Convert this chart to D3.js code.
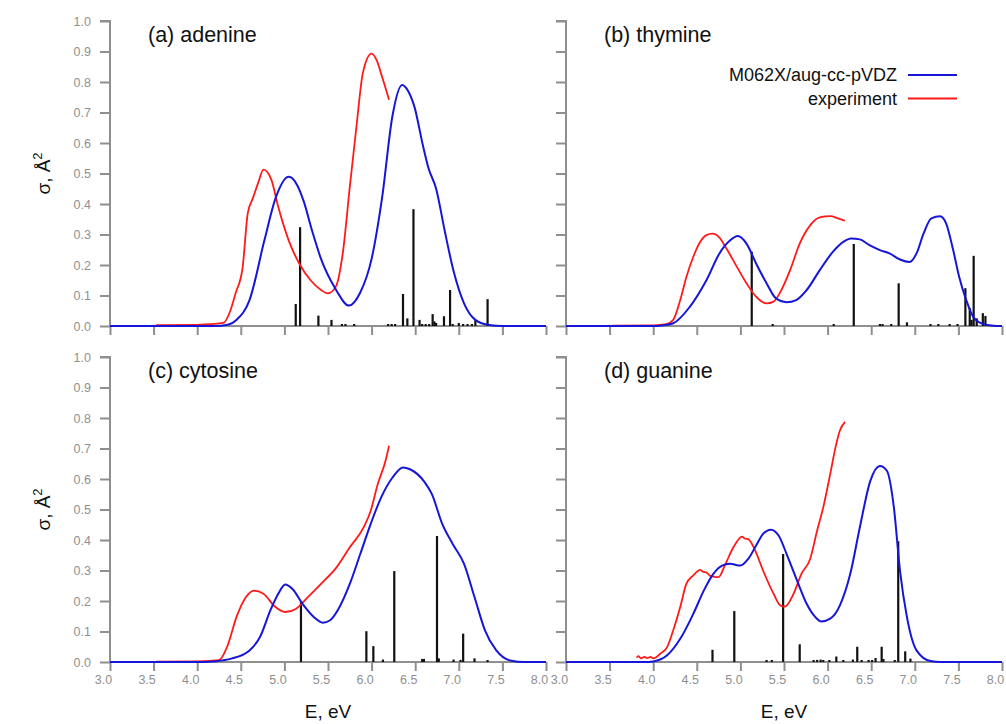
<!DOCTYPE html>
<html>
<head>
<meta charset="utf-8">
<script src="https://cdn.jsdelivr.net/npm/d3@7"></script>
<style>
  body { margin: 0; background: #fff; }
  svg text { font-family: "Liberation Sans", Arial, sans-serif; }
</style>
</head>
<body>
<script>
// tick values shared by all panels
const xTicks = [3.0, 3.5, 4.0, 4.5, 5.0, 5.5, 6.0, 6.5, 7.0, 7.5, 8.0];
const yTicks = [0.0, 0.1, 0.2, 0.3, 0.4, 0.5, 0.6, 0.7, 0.8, 0.9, 1.0];
const seriesNames = ["M062X/aug-cc-pVDZ", "experiment"];
const panelTitles = ["(a) adenine", "(b) thymine", "(c) cytosine", "(d) guanine"];

// [E (eV), sigma (A^2)]
const adenineCalc = [[3.0,0],[4.2,0],[4.35,0.004],[4.45,0.02],[4.6,0.085],[4.77,0.28],[4.9,0.42],[5.05,0.489],
  [5.15,0.46],[5.22,0.41],[5.32,0.31],[5.42,0.22],[5.59,0.12],[5.74,0.067],[5.87,0.11],[6.0,0.22],[6.12,0.42],
  [6.24,0.69],[6.35,0.79],[6.42,0.77],[6.49,0.72],[6.59,0.59],[6.65,0.52],[6.74,0.45],[6.84,0.31],[6.94,0.18],
  [7.06,0.074],[7.19,0.02],[7.35,0.003],[7.5,0],[8.0,0]];
const adenineExp = [[3.53,0.003],[4.0,0.004],[4.3,0.01],[4.38,0.05],[4.44,0.107],[4.52,0.19],[4.58,0.37],[4.64,0.42],
  [4.7,0.47],[4.76,0.513],[4.85,0.48],[4.93,0.39],[5.05,0.28],[5.17,0.205],[5.3,0.15],[5.42,0.118],[5.5,0.107],
  [5.59,0.129],[5.67,0.24],[5.75,0.456],[5.83,0.664],[5.9,0.83],[6.0,0.893],[6.06,0.87],[6.12,0.817],[6.2,0.742]];
const adenineSticks = [[5.13,0.072],[5.18,0.324],[5.39,0.034],[5.54,0.02],[5.66,0.004],[5.70,0.004],[5.80,0.004],
  [6.19,0.004],[6.23,0.004],[6.27,0.004],[6.36,0.105],[6.41,0.025],[6.48,0.383],[6.55,0.02],[6.58,0.005],[6.62,0.005],
  [6.66,0.005],[6.70,0.039],[6.72,0.015],[6.74,0.01],[6.83,0.032],[6.90,0.118],[6.93,0.006],[7.0,0.01],[7.05,0.004],
  [7.1,0.004],[7.15,0.005],[7.19,0.02],[7.33,0.088]];

const thymineCalc = [[3.0,0],[4.0,0],[4.1,0.002],[4.23,0.009],[4.42,0.063],[4.61,0.15],[4.76,0.238],[4.88,0.28],
  [4.97,0.295],[5.07,0.27],[5.18,0.205],[5.3,0.14],[5.41,0.09],[5.53,0.078],[5.64,0.085],[5.76,0.118],[5.91,0.183],
  [6.06,0.243],[6.18,0.276],[6.27,0.287],[6.37,0.284],[6.48,0.265],[6.6,0.249],[6.71,0.238],[6.83,0.218],[6.94,0.21],
  [7.02,0.238],[7.1,0.303],[7.19,0.353],[7.29,0.36],[7.36,0.336],[7.44,0.249],[7.51,0.16],[7.59,0.085],[7.67,0.03],
  [7.78,0.007],[7.9,0.001],[8.0,0]];
const thymineExp = [[3.535,0.001],[4.0,0.002],[4.15,0.006],[4.23,0.02],[4.31,0.085],[4.38,0.16],[4.46,0.227],
  [4.54,0.276],[4.61,0.298],[4.68,0.303],[4.76,0.29],[4.84,0.254],[4.96,0.194],[5.07,0.14],[5.18,0.096],[5.3,0.074],
  [5.38,0.08],[5.45,0.107],[5.57,0.183],[5.68,0.27],[5.8,0.33],[5.91,0.356],[6.03,0.36],[6.12,0.353],[6.2,0.345]];
const thymineSticks = [[5.13,0.244],[5.37,0.003],[6.07,0.005],[6.30,0.269],[6.60,0.005],[6.63,0.005],[6.73,0.003],
  [6.815,0.14],[6.91,0.012],[7.18,0.006],[7.27,0.006],[7.40,0.006],[7.49,0.006],[7.58,0.124],[7.63,0.059],[7.65,0.02],
  [7.675,0.23],[7.71,0.025],[7.78,0.042],[7.81,0.033]];

const cytosineCalc = [[3.0,0],[4.1,0],[4.19,0.002],[4.39,0.011],[4.6,0.038],[4.72,0.082],[4.84,0.17],[4.93,0.224],
  [5.01,0.254],[5.09,0.24],[5.21,0.19],[5.34,0.147],[5.44,0.129],[5.52,0.136],[5.62,0.174],[5.75,0.256],[5.87,0.354],
  [5.99,0.453],[6.11,0.54],[6.24,0.605],[6.36,0.638],[6.44,0.632],[6.61,0.589],[6.69,0.551],[6.81,0.453],[6.93,0.387],
  [7.06,0.322],[7.18,0.213],[7.3,0.104],[7.43,0.038],[7.59,0.005],[7.75,0],[8.0,0]];
const cytosineExp = [[3.53,0.001],[4.0,0.002],[4.25,0.006],[4.35,0.055],[4.45,0.147],[4.56,0.213],[4.65,0.234],
  [4.76,0.224],[4.89,0.182],[5.01,0.164],[5.13,0.174],[5.25,0.207],[5.42,0.256],[5.6,0.311],[5.75,0.376],[5.91,0.442],
  [5.99,0.496],[6.07,0.583],[6.16,0.66],[6.2,0.709]];
const cytosineSticks = [[5.19,0.196],[5.94,0.101],[6.02,0.052],[6.13,0.008],[6.26,0.298],[6.58,0.01],[6.60,0.01],
  [6.75,0.413],[6.77,0.012],[6.94,0.008],[7.02,0.007],[7.05,0.093],[7.18,0.012],[7.33,0.004]];

const guanineCalc = [[3.0,0],[3.9,0],[4.0,0.002],[4.16,0.022],[4.31,0.076],[4.46,0.158],[4.58,0.234],[4.69,0.289],
  [4.79,0.316],[4.88,0.322],[5.0,0.316],[5.09,0.338],[5.19,0.387],[5.26,0.42],[5.35,0.434],[5.44,0.414],[5.53,0.354],
  [5.65,0.267],[5.76,0.191],[5.86,0.147],[5.93,0.133],[6.03,0.142],[6.14,0.185],[6.26,0.289],[6.37,0.442],
  [6.49,0.594],[6.6,0.643],[6.68,0.627],[6.76,0.507],[6.83,0.3],[6.91,0.147],[7.02,0.038],[7.18,0.003],[7.3,0],[8.0,0]];
const guanineExp = [[3.81,0.014],[3.83,0.019],[3.86,0.012],[3.9,0.017],[3.93,0.013],[3.97,0.017],[4.0,0.012],
  [4.03,0.015],[4.08,0.027],[4.16,0.049],[4.23,0.104],[4.31,0.18],[4.38,0.256],[4.46,0.284],[4.54,0.302],[4.57,0.296],
  [4.61,0.294],[4.65,0.283],[4.69,0.28],[4.75,0.278],[4.82,0.316],[4.92,0.376],[5.02,0.411],[5.05,0.405],[5.09,0.403],
  [5.17,0.365],[5.26,0.3],[5.38,0.224],[5.46,0.185],[5.51,0.182],[5.61,0.224],[5.7,0.289],[5.8,0.338],[5.88,0.431],
  [5.95,0.507],[6.03,0.616],[6.09,0.703],[6.14,0.758],[6.2,0.787]];
const guanineSticks = [[4.68,0.04],[4.93,0.167],[5.30,0.005],[5.36,0.005],[5.49,0.354],[5.68,0.058],[5.84,0.005],
  [5.88,0.007],[5.92,0.008],[5.95,0.005],[6.02,0.005],[6.10,0.018],[6.18,0.005],[6.29,0.008],[6.34,0.05],[6.39,0.004],
  [6.47,0.005],[6.51,0.006],[6.55,0.013],[6.62,0.05],[6.64,0.01],[6.77,0.005],[6.81,0.396],[6.89,0.035],[6.95,0.011]];

const width = 1006;
const height = 724;
const panelW = 436;
const panelH = 305;
const lefts = [110, 566];
const tops = [21, 357];

const blue = "#1616d8";
const red = "#ff1a1a";
const grey = "#8f8f8f";

const svg = d3.select("body").append("svg")
  .attr("width", width)
  .attr("height", height);

const panels = [
  {calc: adenineCalc, exp: adenineExp, sticks: adenineSticks, col: 0, row: 0},
  {calc: thymineCalc, exp: thymineExp, sticks: thymineSticks, col: 1, row: 0},
  {calc: cytosineCalc, exp: cytosineExp, sticks: cytosineSticks, col: 0, row: 1},
  {calc: guanineCalc, exp: guanineExp, sticks: guanineSticks, col: 1, row: 1}
];

panels.forEach((p, i) => {
  const g = svg.append("g")
    .attr("transform", `translate(${lefts[p.col]},${tops[p.row]})`);

  const x = d3.scaleLinear().domain([3, 8]).range([0, panelW]);
  const y = d3.scaleLinear().domain([0, 1]).range([panelH, 0]);

  // x axis
  const xa = g.append("g")
    .attr("transform", `translate(0,${panelH})`)
    .call(d3.axisBottom(x).tickValues(xTicks).tickSize(9).tickPadding(4)
      .tickFormat(p.row === 1 ? d3.format(".1f") : ""));
  // y axis
  const ya = g.append("g")
    .call(d3.axisLeft(y).tickValues(yTicks).tickSize(10).tickPadding(9)
      .tickFormat(p.col === 0 ? d3.format(".1f") : ""));

  [xa, ya].forEach(a => {
    a.select(".domain").attr("stroke", grey).attr("stroke-width", 2);
    a.selectAll(".tick line").attr("stroke", grey).attr("stroke-width", 2);
    a.selectAll(".tick text").attr("fill", grey).style("font-size", "12.5px");
  });
  // plain domain lines
  xa.select(".domain").attr("d", `M0,0H${panelW}`);
  ya.select(".domain").attr("d", `M-10,0H0V${panelH}`);
  xa.selectAll(".tick text").attr("dx", -7);

  // stick spectrum
  g.append("g").selectAll("rect")
    .data(p.sticks)
    .join("rect")
    .attr("x", d => x(d[0]) - 1.1)
    .attr("width", 2.2)
    .attr("y", d => Math.min(y(d[1]), panelH - 2))
    .attr("height", d => Math.max(panelH - y(d[1]), 2))
    .attr("fill", "#111");

  const line = d3.line()
    .x(d => x(d[0]))
    .y(d => y(d[1]))
    .curve(d3.curveMonotoneX);

  g.append("path")
    .datum(p.exp)
    .attr("d", line)
    .attr("fill", "none")
    .attr("stroke", red)
    .attr("stroke-width", 1.8);

  g.append("path")
    .datum(p.calc)
    .attr("d", line)
    .attr("fill", "none")
    .attr("stroke", blue)
    .attr("stroke-width", 2);

  g.append("text")
    .attr("x", 38)
    .attr("y", 21)
    .style("font-size", "21.5px")
    .attr("fill", "#111")
    .text(panelTitles[i]);

  if (p.row === 1) {
    g.append("text")
      .attr("x", panelW / 2)
      .attr("y", 361)
      .attr("text-anchor", "middle")
      .style("font-size", "19px")
      .attr("fill", "#111")
      .text("E, eV");
  }
  if (p.col === 0) {
    const t = g.append("text")
      .attr("transform", `translate(-60,${panelH / 2}) rotate(-90)`)
      .attr("text-anchor", "middle")
      .style("font-size", "19px")
      .attr("fill", "#111");
    t.append("tspan").text("σ, Å");
    t.append("tspan").attr("dy", -8).style("font-size", "13px").text("2");
  }

  // legend in thymine panel
  if (i === 1) {
    const lg = g.append("g");
    seriesNames.forEach((name, k) => {
      const ly = 54 + k * 23.5;
      lg.append("text")
        .attr("x", 331)
        .attr("y", ly + 6)
        .attr("text-anchor", "end")
        .style("font-size", "18px")
        .attr("fill", "#111")
        .text(name);
      lg.append("line")
        .attr("x1", 342).attr("x2", 391)
        .attr("y1", ly).attr("y2", ly)
        .attr("stroke", k === 0 ? blue : red)
        .attr("stroke-width", 2);
    });
  }
});
</script>
</body>
</html>
